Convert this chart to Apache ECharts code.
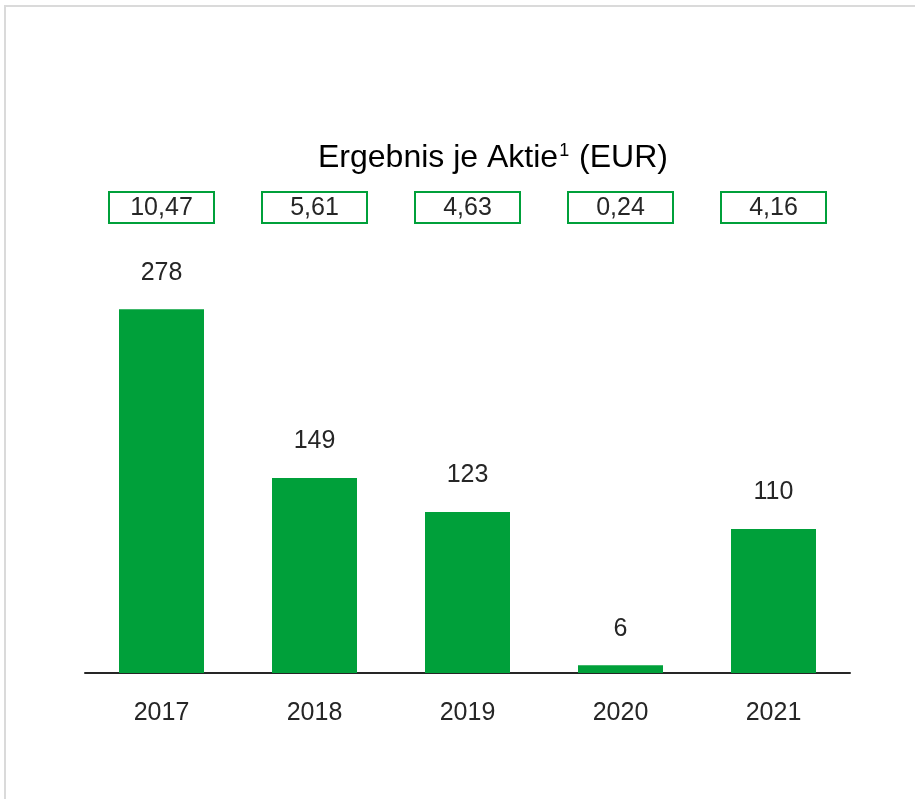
<!DOCTYPE html>
<html>
<head>
<meta charset="utf-8">
<script src="https://cdn.jsdelivr.net/npm/echarts@6/dist/echarts.min.js"></script>
<style>
  html, body { margin: 0; padding: 0; background: #fff; overflow: hidden; }
  #chart { position: absolute; left: 0; top: 0; width: 915px; height: 799px; }
  .frame {
    position: absolute; left: 4px; top: 5px; width: 1000px; height: 1000px;
    border-left: 2px solid #dadada; border-top: 2px solid #dadada;
    pointer-events: none;
  }
</style>
</head>
<body>
<div id="chart"></div>
<div class="frame"></div>
<script>
// Jahre und Konzernergebnis (Mio. EUR)
const years = ['2017', '2018', '2019', '2020', '2021'];
const ergebnis = [278, 149, 123, 6, 110];
// Ergebnis je Aktie (EUR)
const epsLabels = ['10,47', '5,61', '4,63', '0,24', '4,16'];

const green = '#00a03a';
const textColor = '#262626';
const font = '"Liberation Sans", Arial, sans-serif';

const chart = echarts.init(document.getElementById('chart'));

chart.setOption({
  animation: false,
  textStyle: { fontFamily: font },
  title: {
    text: '{t|Ergebnis je Aktie}{sup|1}{t| (EUR)}',
    left: 313,
    top: 137,
    textStyle: {
      fontWeight: 'normal',
      rich: {
        t: { fontSize: 32, color: '#000', fontFamily: font, fontWeight: 'normal' },
        sup: { fontSize: 18, color: '#000', fontFamily: font, fontWeight: 'normal', verticalAlign: 'top', padding: [0, 1, 15, 1] }
      }
    }
  },
  grid: {
    left: 85,
    right: 65,
    top: 228,
    bottom: 126
  },
  xAxis: [
    {
      type: 'category',
      data: years,
      axisLine: { lineStyle: { color: textColor, width: 2 } },
      axisTick: { show: false },
      axisLabel: { color: textColor, fontSize: 25, margin: 28, fontFamily: font }
    },
    {
      type: 'category',
      position: 'top',
      data: epsLabels,
      axisLine: { show: false },
      axisTick: { show: false },
      axisLabel: {
        color: textColor,
        fontSize: 25,
        fontFamily: font,
        margin: 5,
        width: 105,
        align: 'center',
        padding: [4, 0, 2, 0],
        borderColor: green,
        borderWidth: 2
      }
    }
  ],
  yAxis: {
    type: 'value',
    min: 0,
    max: 340,
    show: false,
    splitLine: { show: false }
  },
  series: [
    {
      type: 'bar',
      data: ergebnis,
      barWidth: 85,
      itemStyle: { color: green },
      label: {
        show: true,
        position: 'top',
        distance: 24,
        color: textColor,
        fontSize: 25,
        fontFamily: font
      }
    }
  ]
});
</script>
</body>
</html>
